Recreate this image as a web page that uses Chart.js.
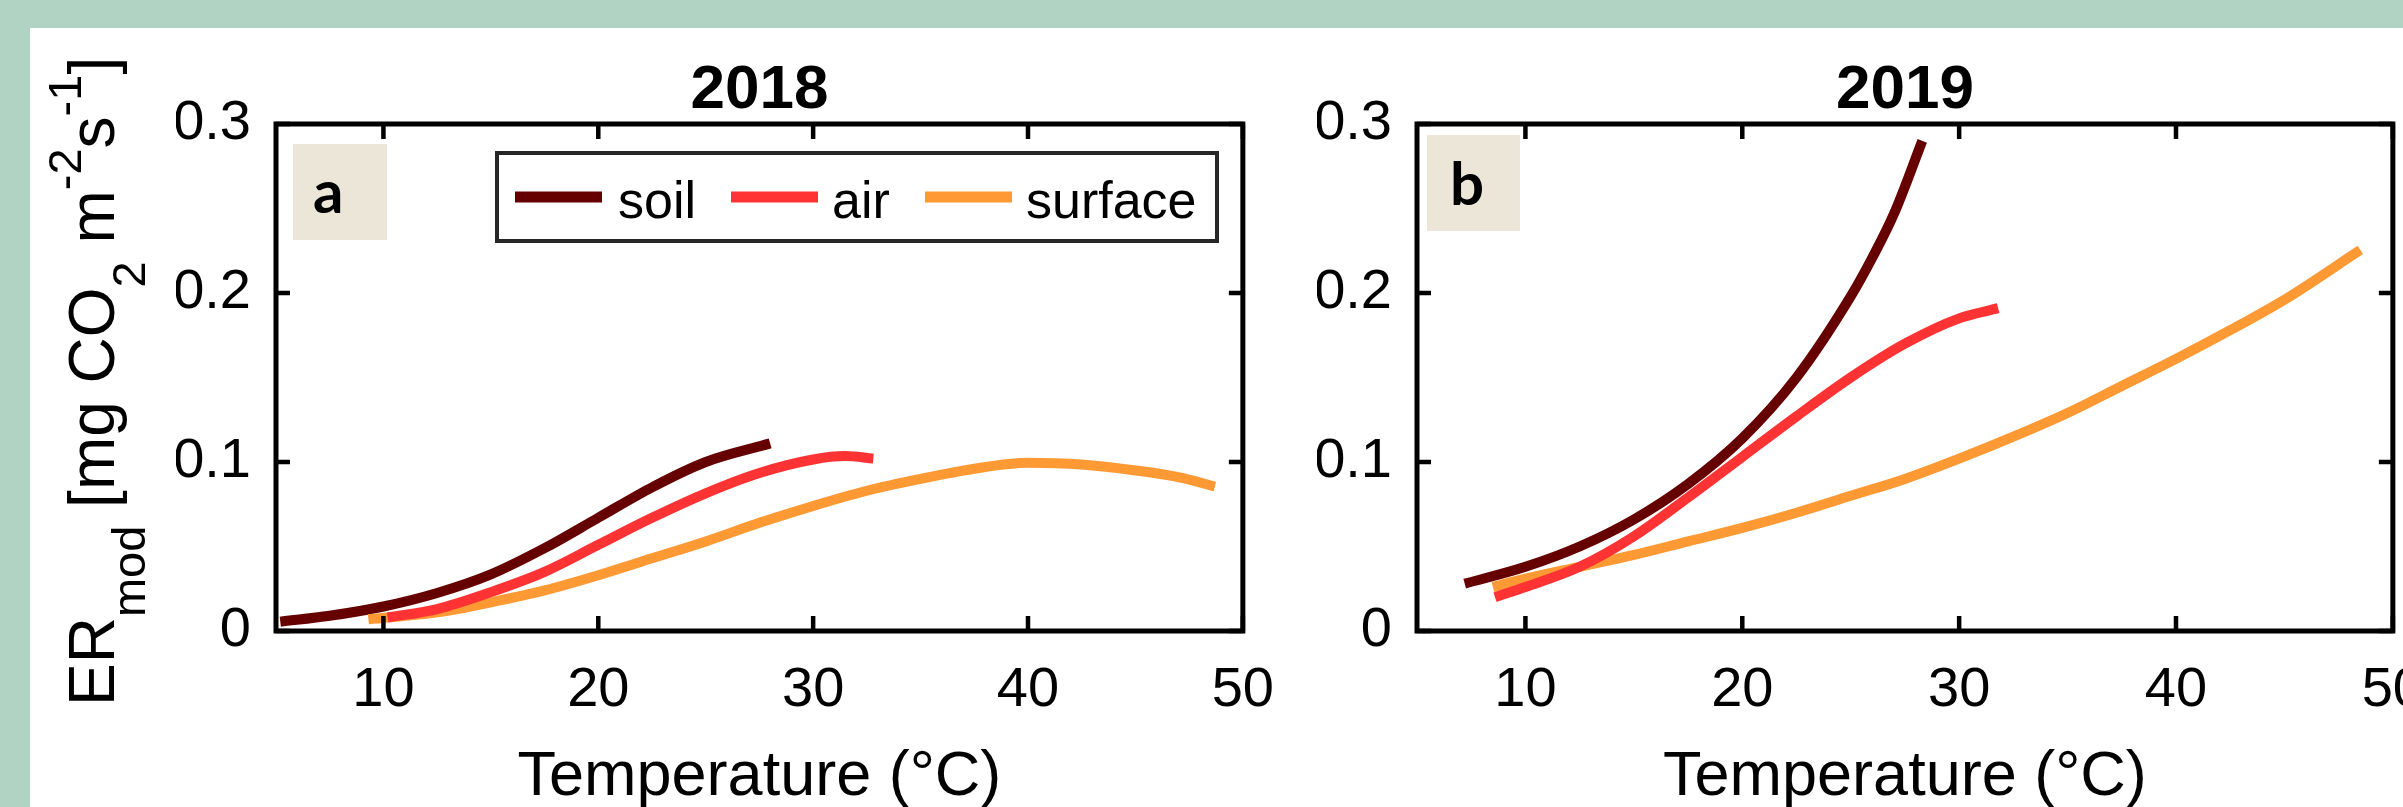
<!DOCTYPE html>
<html>
<head>
<meta charset="utf-8">
<script src="https://cdn.jsdelivr.net/npm/chart.js@4.4.1/dist/chart.umd.min.js"></script>
<style>
  html, body { margin: 0; padding: 0; width: 2403px; height: 807px; overflow: hidden; background: #b0d3c4; }
  #sheet { position: absolute; left: 30px; top: 28px; right: 0; bottom: 0; background: #fff; }
  canvas { position: absolute; top: 0; }
  #panelA { left: 0; }
  #panelB { left: 1300px; }
</style>
</head>
<body>
<div id="sheet"></div>
<canvas id="panelA" width="1300" height="807"></canvas>
<canvas id="panelB" width="1150" height="807"></canvas>
<script>
// Axis ticks
const xTicks = [10, 20, 30, 40, 50];
const yTicks = [0, 0.1, 0.2, 0.3];
const yTickLabels = ['0', '0.1', '0.2', '0.3'];

// Series
const seriesNames = ['soil', 'air', 'surface'];
const seriesColors = ['#660000', '#ff3333', '#ff9933'];
const drawOrder = [2, 0, 1];

// 2018 (panel a)
const soil2018T  = [5.2, 7.5, 10, 12.5, 15, 17.5, 20, 22.5, 25, 28];
const soil2018ER = [0.0055, 0.009, 0.0145, 0.0225, 0.0335, 0.049, 0.067, 0.085, 0.100, 0.111];
const air2018T   = [10.2, 12.5, 15, 17.5, 20, 22.5, 25, 27.5, 30, 31.5, 32.8];
const air2018ER  = [0.008, 0.013, 0.023, 0.035, 0.051, 0.067, 0.0815, 0.0935, 0.1015, 0.1035, 0.102];
const surf2018T  = [9.3, 12.5, 15, 17.5, 20, 22.5, 25, 27.5, 30, 32.5, 35, 37.5, 40, 42.5, 45, 47, 48.7];
const surf2018ER = [0.007, 0.011, 0.017, 0.024, 0.033, 0.043, 0.053, 0.064, 0.074, 0.083, 0.090, 0.096, 0.0995, 0.0985, 0.095, 0.091, 0.0855];

// 2019 (panel b)
const soil2019T  = [7.2, 10, 12.5, 15, 17.5, 20, 22.5, 25, 26, 27, 28.3];
const soil2019ER = [0.028, 0.038, 0.050, 0.066, 0.087, 0.114, 0.150, 0.198, 0.221, 0.247, 0.290];
const air2019T   = [8.6, 10, 12.5, 15, 17.5, 20, 22.5, 25, 27.5, 30, 31.8];
const air2019ER  = [0.020, 0.026, 0.038, 0.056, 0.079, 0.103, 0.127, 0.150, 0.170, 0.185, 0.191];
const surf2019T  = [8.5, 10, 12.5, 15, 17.5, 20, 22.5, 25, 27.5, 30, 32.5, 35, 37.5, 40, 42.5, 45, 48.5];
const surf2019ER = [0.026, 0.031, 0.038, 0.045, 0.053, 0.061, 0.070, 0.080, 0.090, 0.102, 0.115, 0.129, 0.145, 0.161, 0.178, 0.196, 0.2255];

const FONT = '"Liberation Sans", Arial, Helvetica, sans-serif';

// y-axis title pieces: text, 0 normal, 1 subscript, -1 superscript
const yTitleParts = [['ER', 0], ['mod', 1], [' [mg CO', 0], ['2', 1], [' m', 0], ['-2', -1], ['s', 0], ['-1', -1], [']', 0]];

function makeDatasets(T, ER) {
    return seriesNames.map((name, i) => ({
        label: name,
        data: T[i].map((t, j) => ({ x: t, y: ER[i][j] })),
        borderColor: seriesColors[i],
        backgroundColor: seriesColors[i],
        borderWidth: 10,
        borderCapStyle: 'butt',
        pointRadius: 0,
        cubicInterpolationMode: 'monotone',
        fill: false,
        order: drawOrder[i]
    }));
}

const decorPlugin = {
    id: 'decor',
    beforeDatasetsDraw(chart, args, opts) {
        const ctx = chart.ctx;
        const a = chart.chartArea;
        // panel letter box
        ctx.save();
        ctx.fillStyle = '#ece6d8';
        ctx.fillRect(a.left + opts.box[0], a.top + opts.box[1], opts.box[2], opts.box[3]);
        ctx.fillStyle = '#000';
        ctx.font = 'bold 60px Lato, "Open Sans", sans-serif';
        ctx.textBaseline = 'alphabetic';
        ctx.textAlign = 'left';
        ctx.fillText(opts.letter, a.left + opts.box[0] + opts.letterPos[0], a.top + opts.box[1] + opts.letterPos[1]);
        ctx.restore();
    },
    afterDatasetsDraw(chart, args, opts) {
        const ctx = chart.ctx;
        const a = chart.chartArea;
        const xs = chart.scales.x, ys = chart.scales.y;
        ctx.save();
        ctx.strokeStyle = '#000';
        ctx.lineWidth = 5;
        ctx.strokeRect(a.left, a.top, a.right - a.left, a.bottom - a.top);
        ctx.lineWidth = 4.5;
        ctx.beginPath();
        xTicks.forEach(v => {
            const px = xs.getPixelForValue(v);
            ctx.moveTo(px, a.bottom); ctx.lineTo(px, a.bottom - 15);
            ctx.moveTo(px, a.top); ctx.lineTo(px, a.top + 15);
        });
        yTicks.forEach(v => {
            const py = ys.getPixelForValue(v);
            ctx.moveTo(a.left, py); ctx.lineTo(a.left + 14, py);
            ctx.moveTo(a.right, py); ctx.lineTo(a.right - 14, py);
        });
        ctx.stroke();

        if (opts.legend) {
            const L = a.left + 221, T = a.top + 29, W = 720, H = 88;
            ctx.fillStyle = '#fff';
            ctx.fillRect(L, T, W, H);
            ctx.strokeStyle = '#262626';
            ctx.lineWidth = 4;
            ctx.strokeRect(L, T, W, H);
            const lineX = [18, 234, 428];
            const textX = [121, 335, 529];
            ctx.font = '52px ' + FONT;
            ctx.textBaseline = 'alphabetic';
            ctx.textAlign = 'left';
            seriesNames.forEach((name, i) => {
                ctx.strokeStyle = seriesColors[i];
                ctx.lineWidth = 11;
                ctx.beginPath();
                ctx.moveTo(L + lineX[i], T + 44);
                ctx.lineTo(L + lineX[i] + 87, T + 44);
                ctx.stroke();
                ctx.fillStyle = '#000';
                ctx.fillText(name, L + textX[i], T + 65);
            });
        }
        ctx.restore();
    },
    afterDraw(chart, args, opts) {
        const ctx = chart.ctx;
        const a = chart.chartArea;
        const cx = (a.left + a.right) / 2;
        ctx.save();
        ctx.fillStyle = '#000';
        ctx.textAlign = 'center';
        ctx.textBaseline = 'alphabetic';
        ctx.font = 'bold 62px ' + FONT;
        ctx.fillText(opts.title, cx, a.top - 16);
        ctx.font = '63px ' + FONT;
        ctx.fillText('Temperature (°C)', cx, a.bottom + 164);

        if (opts.yTitle) {
            const big = '64px ' + FONT, small = '47px ' + FONT;
            // text runs upward from the bottom anchor
            ctx.translate(114, 706);
            ctx.rotate(-Math.PI / 2);
            ctx.textAlign = 'left';
            let x = 0;
            yTitleParts.forEach(([t, k]) => {
                ctx.font = k === 0 ? big : small;
                const off = k === 1 ? 31 : (k === -1 ? -33 : 0);
                ctx.fillText(t, x, off);
                x += ctx.measureText(t).width;
            });
        }
        ctx.restore();
    }
};

function makePanel(id, T, ER, padLeft, padRight, decor) {
    return new Chart(document.getElementById(id), {
        type: 'line',
        data: { datasets: makeDatasets(T, ER) },
        options: {
            responsive: false,
            animation: false,
            devicePixelRatio: 1,
            layout: { padding: { left: padLeft, right: padRight, top: 124, bottom: 0 } },
            plugins: {
                legend: { display: false },
                tooltip: { enabled: false },
                title: { display: false },
                decor: decor
            },
            scales: {
                x: {
                    type: 'linear',
                    min: 5,
                    max: 50,
                    afterBuildTicks: s => { s.ticks = xTicks.map(v => ({ value: v })); },
                    afterFit: s => { s.height = 176; },
                    grid: { display: false, drawTicks: false },
                    border: { display: false },
                    ticks: {
                        font: { family: FONT, size: 56 },
                        color: '#000',
                        padding: 26,
                        maxRotation: 0,
                        autoSkip: false,
                        callback: v => String(v)
                    }
                },
                y: {
                    type: 'linear',
                    min: 0,
                    max: 0.3,
                    afterBuildTicks: s => { s.ticks = yTicks.map(v => ({ value: v })); },
                    afterFit: s => { s.width = 100; },
                    grid: { display: false, drawTicks: false },
                    border: { display: false },
                    ticks: {
                        font: { family: FONT, size: 56 },
                        color: '#000',
                        padding: 25,
                        autoSkip: false,
                        callback: v => yTickLabels[yTicks.indexOf(v)]
                    }
                }
            }
        },
        plugins: [decorPlugin]
    });
}

makePanel('panelA',
    [soil2018T, air2018T, surf2018T],
    [soil2018ER, air2018ER, surf2018ER],
    176, 47,
    { title: '2018', letter: 'a', box: [17, 20, 94, 96], letterPos: [20, 69], legend: true, yTitle: true });

makePanel('panelB',
    [soil2019T, air2019T, surf2019T],
    [soil2019ER, air2019ER, surf2019ER],
    17, 56,
    { title: '2019', letter: 'b', box: [10, 11, 93, 96], letterPos: [23, 70], legend: false, yTitle: false });
</script>
</body>
</html>
